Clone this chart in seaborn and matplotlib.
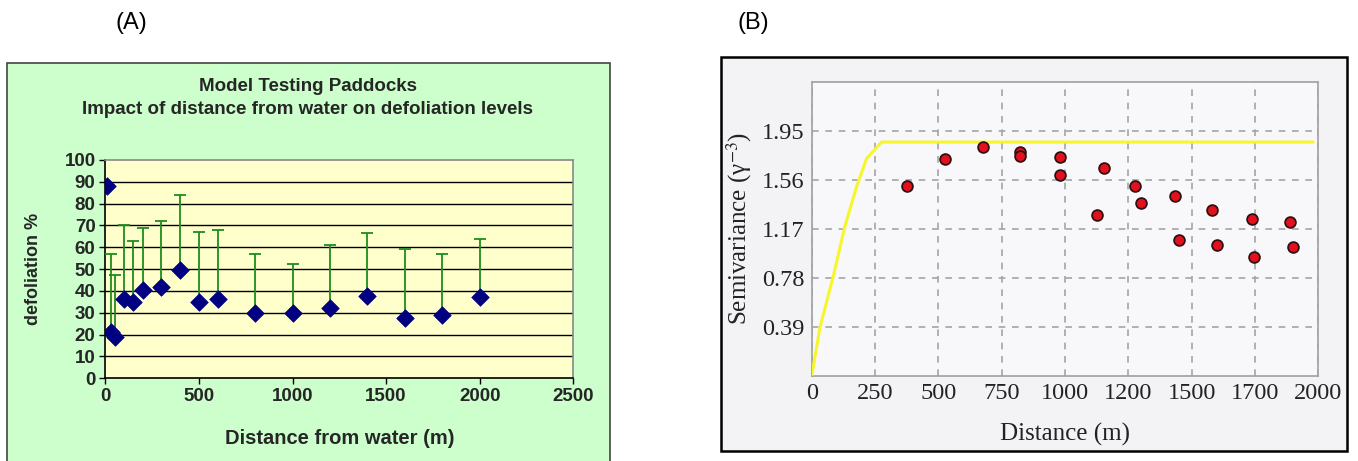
import numpy as np
import pandas as pd
import matplotlib
matplotlib.use("Agg")
import matplotlib.pyplot as plt
from matplotlib.patches import Rectangle
import seaborn as sns

# ---- Panel A: defoliation vs distance from water ----
a_distance = [10, 30, 50, 100, 150, 200, 300, 400, 500, 600, 800, 1000, 1200, 1400, 1600, 1800, 2000]
a_defoliation = [88.2, 21.3, 18.8, 36.3, 34.8, 40.4, 42.0, 49.6, 35.1, 36.3, 30.1, 30.1, 32.1, 37.8, 27.5, 29.1, 37.4]
a_upper = [np.nan, 57.1, 47.3, 70.4, 62.8, 69.0, 72.0, 84.0, 67.2, 68.1, 56.8, 52.2, 61.1, 66.7, 59.1, 57.1, 63.7]
a_xticks = [0, 500, 1000, 1500, 2000, 2500]
a_yticks = list(range(0, 101, 10))

# ---- Panel B: semivariogram ----
b_distance = [378, 526, 675, 822, 822, 981, 981, 1102, 1122, 1233, 1260, 1419, 1440, 1564, 1580, 1690, 1698, 1864, 1882]
b_semivar = [1.507, 1.727, 1.82, 1.78, 1.75, 1.745, 1.60, 1.281, 1.653, 1.507, 1.374, 1.433, 1.082, 1.321, 1.04, 1.247, 0.95, 1.228, 1.024]
b_model_dist = [0, 33, 85, 131, 178, 217, 276, 1976]
b_model_val = [0, 0.39, 0.79, 1.19, 1.51, 1.73, 1.86, 1.86]
b_xticks = [0, 250, 500, 750, 1000, 1200, 1500, 1700, 2000]
b_yticks = [0.39, 0.78, 1.17, 1.56, 1.95]

df_a = pd.DataFrame({"dist": a_distance, "defol": a_defoliation, "upper": a_upper})
df_b = pd.DataFrame({"dist": b_distance, "semivar": b_semivar})
df_m = pd.DataFrame({"dist": b_model_dist, "val": b_model_val})

sns.set_style("white")
plt.rcParams["font.family"] = ["Liberation Sans", "DejaVu Sans"]
plt.rcParams["mathtext.fontset"] = "stix"

W, H = 1358, 461
fig = plt.figure(figsize=(W / 100, H / 100), dpi=100)
fig.patch.set_facecolor("white")

# panel letters
fig.text(131.7 / W, 1 - 23 / H, "(A)", fontsize=17, ha="center", va="center", color="black")
fig.text(753 / W, 1 - 23 / H, "(B)", fontsize=17, ha="center", va="center", color="black")

# chart area background for panel A
fig.patches.append(Rectangle((7 / W, -0.01), 603 / W, (461 - 63) / H + 0.01,
                             transform=fig.transFigure, facecolor="#CCFFCC",
                             edgecolor="#444444", linewidth=1.2, zorder=-10))
# frame for panel B
fig.patches.append(Rectangle((720.7 / W, 1 - 450.7 / H), 626 / W, 393.4 / H,
                             transform=fig.transFigure, facecolor="#F3F3F5",
                             edgecolor="black", linewidth=1.8, zorder=-10))

# ---------------- Panel A ----------------
axA = fig.add_axes([105.3 / W, 1 - 378.3 / H, (573.3 - 105.3) / W, (378.3 - 160) / H])
axA.set_facecolor("#FFFFCC")
sns.scatterplot(data=df_a, x="dist", y="defol", marker="D", s=80, color="#000080",
                edgecolor="#000080", linewidth=0.5, ax=axA, zorder=4)
err_plus = (df_a["upper"] - df_a["defol"]).to_numpy()
mask = ~np.isnan(err_plus)
axA.errorbar(df_a["dist"][mask], df_a["defol"][mask],
             yerr=[np.zeros(mask.sum()), err_plus[mask]],
             fmt="none", ecolor="#1E8B1E", elinewidth=1.3, capsize=4, capthick=1.3, zorder=3)
axA.set_xlim(0, 2500)
axA.set_ylim(0, 100)
axA.set_xticks(a_xticks)
axA.set_yticks(a_yticks)
for v in a_yticks[1:-1]:
    axA.axhline(v, color="black", linewidth=1.0, zorder=1)
for lbl in axA.get_xticklabels() + axA.get_yticklabels():
    lbl.set_fontweight("bold")
axA.tick_params(axis="both", labelsize=13.5, length=4, width=1, color="black",
                direction="out", left=True, bottom=True, pad=3)
axA.spines["left"].set_color("black")
axA.spines["bottom"].set_color("black")
axA.spines["top"].set_color("#888888")
axA.spines["right"].set_color("#888888")
for s in axA.spines.values():
    s.set_linewidth(1.2)
axA.set_xlabel("Distance from water (m)", fontsize=14.5, fontweight="bold", labelpad=17)
axA.set_ylabel("defoliation %", fontsize=13, fontweight="bold", labelpad=16)
fig.text(308 / W, 1 - 86.7 / H, "Model Testing Paddocks", fontsize=13.5, fontweight="bold",
         ha="center", va="center")
fig.text(308 / W, 1 - 110 / H, "Impact of distance from water on defoliation levels",
         fontsize=13.5, fontweight="bold", ha="center", va="center")

# ---------------- Panel B ----------------
def fwd(x):
    return np.interp(x, b_xticks, np.arange(len(b_xticks)))

def inv(p):
    return np.interp(p, np.arange(len(b_xticks)), b_xticks)

axB = fig.add_axes([811.7 / W, 1 - 376 / H, (1318.3 - 811.7) / W, (376 - 81.7) / H])
axB.set_facecolor("#F8F8FA")
axB.set_xscale("function", functions=(fwd, inv))
axB.set_xlim(0, 2000)
axB.set_ylim(0, 2.34)
axB.set_xticks(b_xticks)
axB.set_xticklabels([str(t) for t in b_xticks])
axB.set_yticks(b_yticks)
axB.set_yticklabels([f"{t:.2f}" for t in b_yticks])
axB.xaxis.set_minor_locator(matplotlib.ticker.NullLocator())
axB.grid(True, color="#A5A5A5", linestyle=(0, (4, 4)), linewidth=1.2)
axB.set_axisbelow(True)
sns.lineplot(data=df_m, x="dist", y="val", color="#F6F62A", linewidth=2.2, ax=axB,
             zorder=3, sort=False)
sns.scatterplot(data=df_b, x="dist", y="semivar", s=60, color="#E5101E", edgecolor="#301010",
                linewidth=1.3, ax=axB, zorder=4)
for s in axB.spines.values():
    s.set_color("#A0A0A0")
    s.set_linewidth(1.2)
serif = ["Liberation Serif", "DejaVu Serif"]
axB.tick_params(axis="both", labelsize=17.5, length=0, pad=5)
for lbl in axB.get_xticklabels() + axB.get_yticklabels():
    lbl.set_family(serif)
    lbl.set_color("#222222")
axB.set_xlabel("Distance (m)", fontsize=18, family=serif, color="#222222", labelpad=14)
axB.set_ylabel("Semivariance (\u03b3$^{-3}$)", fontsize=18, family=serif, color="#222222",
               labelpad=6)

fig.savefig("out.png", dpi=100)
